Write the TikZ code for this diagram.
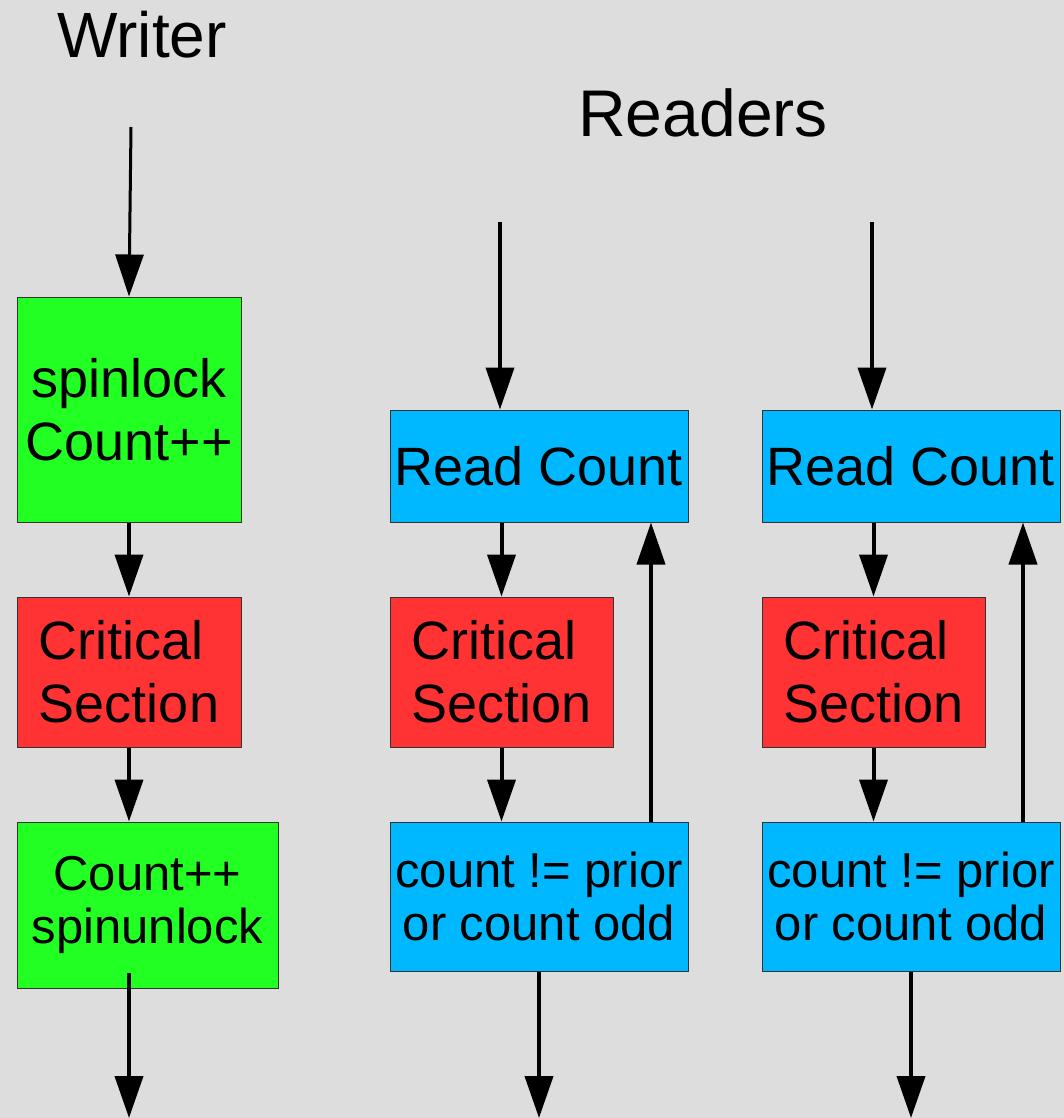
\documentclass[tikz,border=0pt]{standalone}
\usepackage{fontspec}
\setmainfont{Liberation Sans}
\usetikzlibrary{arrows.meta,calc}
\definecolor{bg}{HTML}{DDDDDD}
\definecolor{lockgreen}{HTML}{22FF22}
\definecolor{critred}{HTML}{FF3333}
\definecolor{readblue}{HTML}{00B8FF}
\definecolor{edge}{HTML}{333333}
\begin{document}
\begin{tikzpicture}[x=1pt,y=-1pt,
  box/.style={draw=edge, line width=1pt, rectangle, inner sep=0pt, align=center, text=black},
  big/.style={font=\fontsize{54}{63}\selectfont},
  small/.style={font=\fontsize{49}{53}\selectfont},
  lockbox/.style={box, fill=lockgreen},
  critbox/.style={box, fill=critred, big, align=left},
  readbox/.style={box, fill=readblue},
  flow/.style={line width=4pt, -{Triangle[length=42pt,width=28pt]}},
  heading/.style={inner sep=0pt, anchor=base}]

% canvas
\fill[bg] (0,0) rectangle (1064,1118);
\useasboundingbox (0,0) rectangle (1064,1118);

% headings
\node[heading, font=\fontsize{64}{70}\selectfont] (wtitle) at (142,58) {Writer};
\node[heading, font=\fontsize{66}{72}\selectfont] (rtitle) at (703,137) {Readers};

% writer column
\node[lockbox, big, minimum width=224pt, minimum height=225pt] (w1) at (129,409.5) {spinlock\\Count++};
\node[critbox, minimum width=224pt, minimum height=150pt] (w2) at (129,672) {Critical\\Section};
\node[lockbox, small, minimum width=261pt, minimum height=166pt] (w3) at (147.5,905) {Count++\\spinunlock};

\coordinate (wtop) at (131,127);
\coordinate (wend) at (129,1118);
\draw[flow, line width=3pt] (wtop) -- (w1.north);
\draw[flow] (w1) -- (w2);
\draw[flow] (w2.south) -- (w2.south |- w3.north);
\draw[flow] ($(w3.south -| wend)+(0,-16)$) -- (wend);

% reader columns
\foreach \i/\dx in {1/0, 2/372} {
  \node[readbox, big, minimum width=298pt, minimum height=112pt] (rc\i) at (539+\dx,466) {Read Count};
  \node[critbox, minimum width=223pt, minimum height=150pt] (cs\i) at (501.5+\dx,672) {Critical\\Section};
  \node[readbox, small, minimum width=298pt, minimum height=149pt] (ck\i) at (539+\dx,896.5) {count != prior\\or count odd};

  \coordinate (rtop\i) at (500+\dx,222);
  \coordinate (rloop\i) at (651+\dx,0);
  \coordinate (rend\i) at (539+\dx,1118);

  \draw[flow] (rtop\i) -- (rtop\i |- rc\i.north);
  \draw[flow] (rc\i.south -| cs\i.north) -- (cs\i.north);
  \draw[flow] (cs\i.south) -- (cs\i.south |- ck\i.north);
  \draw[flow] (ck\i.north -| rloop\i) -- (rc\i.south -| rloop\i);
  \draw[flow] (ck\i.south) -- (rend\i);
}
\end{tikzpicture}
\end{document}
